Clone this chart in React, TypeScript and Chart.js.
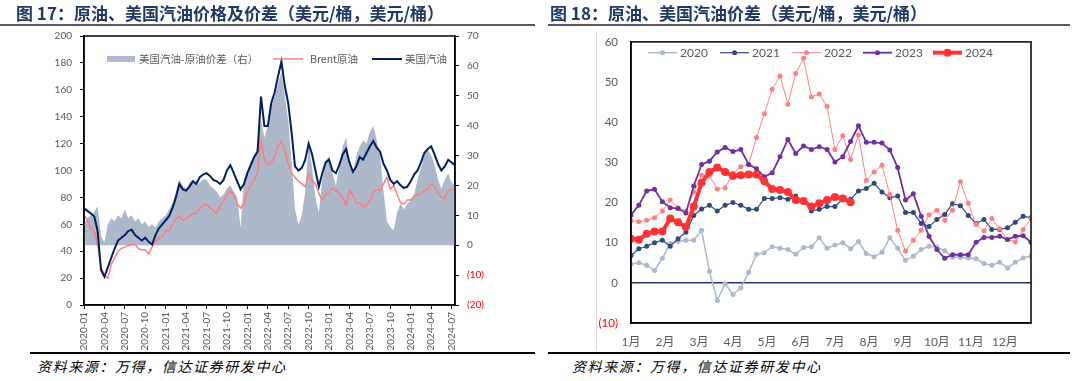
import React, { useEffect, useRef } from 'react';
import { Chart, registerables } from 'chart.js';
Chart.register(...registerables);

const FONT = "Lato, 'Noto Sans CJK SC', sans-serif";
const CJK = "'Noto Sans CJK SC', sans-serif";

// ---------- Figure 17 (semi-monthly, 2020-01 .. 2024-07) ----------
const quarterLabels = [
  '2020-01', '2020-04', '2020-07', '2020-10', '2021-01', '2021-04', '2021-07', '2021-10',
  '2022-01', '2022-04', '2022-07', '2022-10', '2023-01', '2023-04', '2023-07', '2023-10',
  '2024-01', '2024-04', '2024-07',
];
const gasoline = [
  72, 70, 68, 66, 55, 26, 21, 28, 35, 42, 48, 50, 52, 55, 56, 52, 50, 48, 50, 47, 45, 52, 57, 60,
  63, 66, 72, 80, 90, 86, 85, 88, 92, 90, 95, 97, 98, 96, 93, 92, 90, 93, 100, 104, 98, 92, 86, 90,
  98, 104, 110, 114, 155, 133, 133, 150, 158, 170, 181, 163, 150, 128, 103, 100, 102, 108, 120, 112, 100, 88, 98, 106,
  108, 100, 98, 104, 112, 116, 106, 99, 103, 110, 108, 113, 118, 122, 117, 114, 105, 100, 93, 90, 92, 89, 87, 88,
  92, 97, 100, 106, 113, 116, 118, 112, 105, 100, 103, 108, 106, 104,
];
const brent = [
  67, 63, 57, 55, 45, 28, 22, 20, 30, 35, 40, 42, 43, 44, 45, 45, 42, 41, 41, 38, 43, 47, 50, 51,
  55, 55, 60, 64, 66, 63, 64, 66, 68, 68, 72, 74, 75, 72, 70, 68, 74, 77, 82, 85, 82, 75, 72, 76,
  84, 89, 93, 98, 122, 108, 104, 106, 110, 118, 122, 115, 105, 98, 95, 92, 90, 88, 97, 93, 90, 83, 78, 82,
  84, 87, 85, 83, 80, 74, 85, 82, 75, 76, 73, 74, 78, 84, 86, 85, 90, 95, 86, 89, 82, 76, 75, 78,
  78, 81, 82, 83, 85, 86, 90, 88, 83, 80, 79, 85, 86, 85,
];
const spread = [
  7, 9, 10, 11, 13, 3, 1, 7, 9, 8, 10, 9, 12, 9, 10, 8, 9, 7, 8, 6, 7, 6, 8, 9,
  10, 12, 14, 18, 22, 20, 19, 21, 22, 20, 21, 22, 22, 20, 19, 18, 16, 17, 19, 20, 18, 16, 6, 22,
  25, 28, 30, 33, 42, 36, 40, 46, 50, 54, 58, 50, 42, 28, 12, 7, 10, 18, 34, 26, 16, 11, 22, 28,
  30, 24, 20, 26, 33, 36, 28, 24, 30, 33, 35, 34, 38, 40, 35, 30, 18, 8, 6, 5, 11, 14, 12, 14,
  15, 17, 22, 26, 30, 32, 30, 27, 22, 19, 22, 24, 21, 20,
];

// ---------- Figure 18 (weekly, 52 weeks) ----------
const monthLabels = ['1月', '2月', '3月', '4月', '5月', '6月', '7月', '8月', '9月', '10月', '11月', '12月'];
const y2020 = [4.7, 5.0, 4.4, 3.1, 6.1, 9.8, 10.3, 10.6, 10.6, 13.1, 2.9, -4.4, -0.2, -2.9, -1.3, 2.6, 7.1, 7.5, 9.0, 8.6, 8.3, 7.1, 8.8, 9.0, 11.2, 8.6, 9.4, 10.0, 8.5, 10.3, 7.3, 6.5, 7.6, 11.2, 8.6, 5.6, 6.6, 8.3, 9.1, 8.9, 8.0, 6.4, 6.4, 6.2, 6.0, 4.8, 4.4, 5.1, 3.7, 5.1, 6.2, 6.7];
const y2021 = [6.8, 8.5, 9.1, 10.0, 10.6, 9.1, 11.0, 12.6, 16.8, 18.4, 19.3, 17.9, 19.3, 20.0, 19.3, 18.3, 18.3, 21.0, 21.0, 21.2, 20.8, 21.6, 20.4, 17.9, 18.3, 19.0, 19.0, 20.8, 20.8, 22.9, 23.5, 24.8, 22.6, 21.2, 21.6, 17.5, 17.5, 14.8, 14.0, 15.8, 17.0, 19.7, 19.2, 16.8, 14.8, 15.8, 13.3, 13.3, 13.7, 15.1, 16.6, 16.2];
const y2022 = [15.5, 15.2, 15.6, 16.2, 17.9, 20.6, 18.7, 17.9, 22.6, 26.8, 26.6, 23.4, 23.7, 27.3, 28.9, 29.5, 36.2, 42.1, 48.2, 51.5, 44.5, 52.1, 55.9, 46.3, 47.0, 44.0, 33.2, 36.6, 30.7, 36.8, 25.5, 27.6, 29.3, 22.0, 13.1, 7.9, 10.6, 13.1, 16.9, 18.1, 15.6, 18.1, 25.2, 19.8, 14.5, 13.0, 16.0, 13.5, 10.8, 10.2, 13.3, 16.0];
const y2023 = [16.9, 19.3, 22.9, 23.3, 20.2, 18.7, 18.5, 17.4, 24.1, 29.5, 30.3, 32.6, 33.7, 32.7, 33.2, 29.5, 28.4, 26.4, 27.4, 31.4, 35.7, 32.2, 34.1, 33.2, 33.9, 33.2, 30.1, 31.4, 35.2, 39.1, 35.0, 35.0, 34.8, 33.1, 28.7, 20.6, 22.2, 16.6, 11.6, 8.3, 6.1, 7.0, 7.0, 7.0, 10.1, 11.3, 11.3, 11.6, 10.8, 11.6, 11.7, 10.1];
const y2024 = [11.0, 10.7, 12.2, 12.8, 12.8, 16.0, 15.1, 13.9, 19.0, 24.9, 27.6, 28.7, 27.6, 26.6, 26.8, 27.0, 27.0, 25.3, 23.4, 23.1, 22.6, 20.6, 20.4, 19.0, 19.8, 20.6, 21.4, 21.0, 20.1];
const yearNames = ['2020', '2021', '2022', '2023', '2024'];

const GRAY_TXT = '#595959';
const CANVAS_TOP = 22;

function LeftChart() {
  const ref = useRef<HTMLCanvasElement>(null);
  useEffect(() => {
    const labels = gasoline.map((_, i) => String(i));
    const frame = {
      id: 'frame',
      afterDatasetsDraw(chart: any) {
        const { ctx, chartArea: a } = chart;
        ctx.save();
        ctx.strokeStyle = '#000';
        ctx.lineWidth = 1.5;
        ctx.strokeRect(a.left, a.top, a.right - a.left, a.bottom - a.top);
        ctx.restore();
      },
      afterDraw(chart: any) {
        const ctx = chart.ctx;
        ctx.save();
        const y = 59 - CANVAS_TOP;
        ctx.fillStyle = '#adb9ca';
        ctx.fillRect(107, y - 3, 28, 6);
        ctx.font = `10.5px ${CJK}`;
        ctx.fillStyle = GRAY_TXT;
        ctx.textBaseline = 'middle';
        ctx.textAlign = 'left';
        ctx.fillText('美国汽油-原油价差（右）', 139, y);
        ctx.strokeStyle = '#ff7c80';
        ctx.lineWidth = 1.5;
        ctx.beginPath(); ctx.moveTo(273, y); ctx.lineTo(303, y); ctx.stroke();
        ctx.fillText('Brent原油', 310, y);
        ctx.strokeStyle = '#002060';
        ctx.lineWidth = 2;
        ctx.beginPath(); ctx.moveTo(372, y); ctx.lineTo(402, y); ctx.stroke();
        ctx.fillText('美国汽油', 405, y);
        ctx.restore();
      },
    };
    const chart = new Chart(ref.current!, {
      type: 'line',
      data: {
        labels,
        datasets: [
          { label: '美国汽油-原油价差（右）', data: spread, yAxisID: 'yR', fill: 'origin', backgroundColor: '#adb9ca', borderWidth: 0, pointRadius: 0, order: 3 } as any,
          { label: 'Brent原油', data: brent, yAxisID: 'yL', borderColor: '#ff7c80', borderWidth: 1.5, pointRadius: 0, fill: false, order: 2 },
          { label: '美国汽油', data: gasoline, yAxisID: 'yL', borderColor: '#002060', borderWidth: 2, pointRadius: 0, fill: false, order: 1 },
        ],
      },
      options: {
        animation: false,
        responsive: false,
        maintainAspectRatio: false,
        layout: { padding: 0 },
        plugins: { legend: { display: false }, tooltip: { enabled: false } },
        elements: { line: { tension: 0 } },
        scales: {
          x: {
            type: 'category',
            offset: false,
            grid: { display: true, drawOnChartArea: false, drawTicks: true, tickLength: 4, color: '#000' },
            border: { display: true, color: '#000', width: 1.5 },
            ticks: {
              autoSkip: false, minRotation: 90, maxRotation: 90, padding: 3, color: GRAY_TXT,
              font: { size: 10, family: FONT },
              callback: (_v: any, i: number) => (i % 6 === 0 ? quarterLabels[i / 6] : null),
            },
            afterFit: (s: any) => { s.height = 45; },
          },
          yL: {
            position: 'left', min: 0, max: 200,
            grid: { drawOnChartArea: false, tickLength: 4, color: '#000' },
            border: { display: true, color: '#000', width: 1.5 },
            ticks: { stepSize: 20, padding: 8, color: GRAY_TXT, font: { size: 10, family: FONT } },
            afterFit: (s: any) => { s.width = 84; },
          },
          yR: {
            position: 'right', min: -20, max: 70,
            grid: { drawOnChartArea: false, tickLength: 4, color: '#000' },
            border: { display: true, color: '#000', width: 1.5 },
            ticks: {
              stepSize: 10, padding: 8, font: { size: 10, family: FONT },
              color: (c: any) => (c.tick && c.tick.value < 0 ? '#ff0000' : GRAY_TXT),
              callback: (v: any) => (v < 0 ? `(${-v})` : `${v}`),
            },
            afterFit: (s: any) => { s.width = 85; },
          },
        },
      } as any,
      plugins: [frame],
    });
    return () => chart.destroy();
  }, []);
  const h = 350 - CANVAS_TOP;
  return <canvas ref={ref} width={540} height={h} style={{ position: 'absolute', left: 0, top: CANVAS_TOP, width: 540, height: h }} />;
}

function RightChart() {
  const ref = useRef<HTMLCanvasElement>(null);
  useEffect(() => {
    const toXY = (arr: number[]) => arr.map((v, i) => ({ x: i, y: v }));
    const styles = [
      { color: '#adb9ca', width: 1.5, r: 2.5 },
      { color: '#2f4b7c', width: 1.2, r: 2.5 },
      { color: '#ff8084', width: 1, r: 2.5 },
      { color: '#7030a0', width: 1.8, r: 2.5 },
      { color: '#ff3333', width: 4, r: 4 },
    ];
    const series = [y2020, y2021, y2022, y2023, y2024];
    const plug = {
      id: 'deco',
      beforeDatasetsDraw(chart: any) {
        const { ctx, chartArea: a, scales } = chart;
        const y0 = scales.y.getPixelForValue(0);
        ctx.save();
        ctx.strokeStyle = '#1f3864';
        ctx.lineWidth = 1.5;
        ctx.beginPath(); ctx.moveTo(a.left, y0); ctx.lineTo(a.right, y0); ctx.stroke();
        ctx.restore();
      },
      afterDatasetsDraw(chart: any) {
        const { ctx, chartArea: a } = chart;
        ctx.save();
        ctx.strokeStyle = '#000';
        ctx.lineWidth = 1.5;
        ctx.strokeRect(a.left, a.top, a.right - a.left, a.bottom - a.top);
        const y = 52.7 - CANVAS_TOP;
        const xs = [108, 180, 252, 323, 393];
        ctx.font = `12px ${FONT}`;
        ctx.textBaseline = 'middle';
        ctx.textAlign = 'left';
        xs.forEach((x, k) => {
          const st = styles[k];
          ctx.strokeStyle = st.color;
          ctx.lineWidth = st.width;
          ctx.beginPath(); ctx.moveTo(x, y); ctx.lineTo(x + 29, y); ctx.stroke();
          ctx.fillStyle = st.color;
          ctx.beginPath(); ctx.arc(x + 14.5, y, st.r, 0, Math.PI * 2); ctx.fill();
          ctx.fillStyle = GRAY_TXT;
          ctx.fillText(yearNames[k], x + 32, y);
        });
        ctx.restore();
      },
    };
    const chart = new Chart(ref.current!, {
      type: 'line',
      data: {
        datasets: series.map((s, k) => ({
          label: yearNames[k],
          data: toXY(s),
          borderColor: styles[k].color,
          backgroundColor: styles[k].color,
          borderWidth: styles[k].width,
          pointRadius: styles[k].r,
          pointBorderWidth: 0,
          pointBackgroundColor: styles[k].color,
          fill: false,
          order: 5 - k,
        })),
      },
      options: {
        animation: false,
        responsive: false,
        maintainAspectRatio: false,
        layout: { padding: { top: 0, left: 0, right: 43, bottom: 0 } },
        plugins: { legend: { display: false }, tooltip: { enabled: false } },
        elements: { line: { tension: 0 } },
        scales: {
          x: {
            type: 'linear', min: 0, max: 51,
            grid: { display: false, drawTicks: false },
            border: { display: true, color: '#000', width: 1.5 },
            afterBuildTicks: (s: any) => { s.ticks = monthLabels.map((_, i) => ({ value: (i * 52) / 12 })); },
            ticks: {
              autoSkip: false, maxRotation: 0, padding: 12, color: GRAY_TXT,
              font: { size: 12, family: FONT },
              callback: (_v: any, i: number) => monthLabels[i],
            },
            afterFit: (s: any) => { s.height = 27; },
          },
          y: {
            min: -10, max: 60,
            grid: { display: false, drawTicks: false },
            border: { display: true, color: '#000', width: 1.5 },
            ticks: {
              stepSize: 10, padding: 13, font: { size: 11.5, family: FONT },
              color: (c: any) => (c.tick && c.tick.value < 0 ? '#ff0000' : GRAY_TXT),
              callback: (v: any) => (v < 0 ? `(${-v})` : `${v}`),
            },
            afterFit: (s: any) => { s.width = 91; },
          },
        },
      } as any,
      plugins: [plug],
    });
    return () => chart.destroy();
  }, []);
  const h = 350 - CANVAS_TOP;
  return <canvas ref={ref} width={534} height={h} style={{ position: 'absolute', left: 540, top: CANVAS_TOP, width: 534, height: h }} />;
}

export default function App() {
  const titleStyle: React.CSSProperties = {
    position: 'absolute', top: 4, fontFamily: CJK, fontWeight: 700, fontSize: 17, lineHeight: '17px',
    color: '#1f3864', whiteSpace: 'nowrap',
  };
  const srcStyle: React.CSSProperties = {
    position: 'absolute', top: 359, fontFamily: CJK, fontStyle: 'italic', fontSize: 14, lineHeight: '14px',
    letterSpacing: 1.6, color: '#000', whiteSpace: 'nowrap',
  };
  const hline = (left: number, width: number, top: number, color: string, h: number): React.CSSProperties => ({
    position: 'absolute', left, width, top, height: h, background: color,
  });
  return (
    <div style={{ position: 'fixed', left: 0, top: 0, width: 1074, height: 381, background: '#fff', overflow: 'hidden' }}>
      <LeftChart />
      <RightChart />
      <div style={{ ...titleStyle, left: 16 }}>图 17：原油、美国汽油价格及价差（美元/桶，美元/桶）</div>
      <div style={{ ...titleStyle, left: 550 }}>图 18：原油、美国汽油价差（美元/桶，美元/桶）</div>
      <div style={hline(0, 535, 24, '#595959', 1.5)} />
      <div style={hline(548, 522, 24, '#595959', 1.5)} />
      <div style={{ position: 'absolute', left: 596, top: 32, width: 1, height: 318, background: '#d9d9d9' }} />
      <div style={hline(30, 505, 352, '#000', 1.5)} />
      <div style={hline(548, 522, 352, '#000', 1.5)} />
      <div style={{ ...srcStyle, left: 37 }}>资料来源：万得，信达证券研发中心</div>
      <div style={{ ...srcStyle, left: 572 }}>资料来源：万得，信达证券研发中心</div>
    </div>
  );
}
